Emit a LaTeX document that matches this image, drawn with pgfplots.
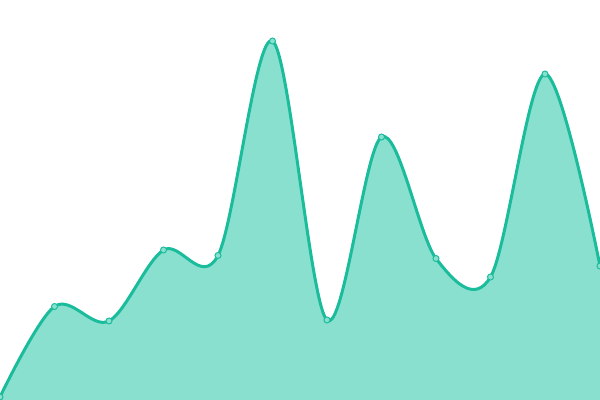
\documentclass[border=0pt]{standalone}
\usepackage{pgfplots}
\pgfplotsset{compat=1.18}
\definecolor{lineC}{RGB}{26,188,156}
\definecolor{fillC}{RGB}{138,224,207}
\begin{document}
\begin{tikzpicture}
\begin{axis}[
  width=600bp, height=400bp, scale only axis,
  xmin=0, xmax=600, ymin=0, ymax=400,
  hide axis, clip=true, clip marker paths=true,
  at={(0,0)}, anchor=south west,
]
\addplot[draw=none, fill=fillC, smooth, tension=0.55] coordinates {
(0,3) (54.5,93.5) (109,79) (163.5,150) (218,144.5) (272.5,359) (327,80) (381.5,263) (436,141.5) (490.5,123) (545,326) (600,134)
} \closedcycle;
\addplot[lineC, line width=3bp, smooth, tension=0.55, mark=*, mark size=3bp,
  mark options={fill=fillC, draw=lineC, line width=1bp}] coordinates {
(0,3) (54.5,93.5) (109,79) (163.5,150) (218,144.5) (272.5,359) (327,80) (381.5,263) (436,141.5) (490.5,123) (545,326) (600,134)
};
\end{axis}
\pgfresetboundingbox
\path (0,0) rectangle (600bp,400bp);
\end{tikzpicture}
\end{document}
